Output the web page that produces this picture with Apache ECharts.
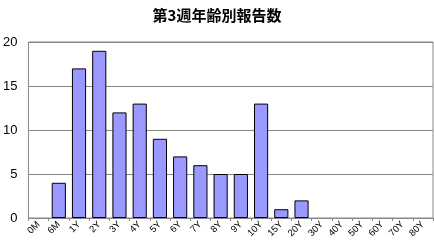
<!DOCTYPE html>
<html><head><meta charset="utf-8">
<script src="https://cdn.jsdelivr.net/npm/echarts@6/dist/echarts.min.js"></script>
<style>html,body{margin:0;padding:0;background:#fff}#c{width:434px;height:246px}</style>
</head><body><div id="c"></div>
<script>
const categories = ['0M','6M','1Y','2Y','3Y','4Y','5Y','6Y','7Y','8Y','9Y','10Y','15Y','20Y','30Y','40Y','50Y','60Y','70Y','80Y'];
const values = [0,4,17,19,12,13,9,7,6,5,5,13,1,2,0,0,0,0,0,0];
const yTicks = [0,5,10,15,20];
const titleText = '第3週年齢別報告数';

const chart = echarts.init(document.getElementById('c'), null, {renderer:'canvas'});
chart.setOption({
  animation:false,
  title:{text:titleText,left:'center',top:3,textStyle:{fontSize:15,fontWeight:'bold',color:'#000',fontFamily:'"Noto Sans CJK JP", sans-serif'}},
  grid:{left:27,right:1,top:42,bottom:28,show:true,borderColor:'#888',borderWidth:1},
  xAxis:{type:'category',data:categories,
    axisLine:{lineStyle:{color:'#888',width:1}},
    axisTick:{show:true,alignWithLabel:false,length:3,lineStyle:{color:'#888'}},
    axisLabel:{rotate:45,fontSize:9.5,color:'#000',margin:5,interval:0,fontFamily:'"Liberation Sans", sans-serif'}},
  yAxis:{type:'value',min:0,max:20,interval:5,
    axisLine:{show:false},axisTick:{show:false},
    splitLine:{lineStyle:{color:'#888',width:1}},
    axisLabel:{fontSize:13,color:'#000',margin:11,fontFamily:'"Liberation Sans", sans-serif',
      formatter:v=>yTicks.includes(v)?String(v):''}},
  series:[{type:'bar',data:values.map(v=>v===0?'-':v),barCategoryGap:'30%',
    itemStyle:{color:'#9999ff',borderColor:'#000',borderWidth:1}}]
});
</script></body></html>
